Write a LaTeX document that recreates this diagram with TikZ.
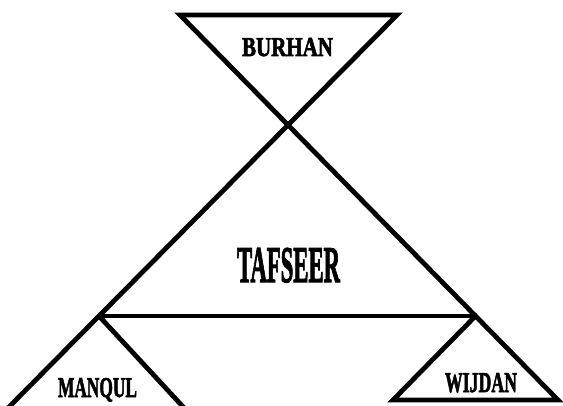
\documentclass[tikz,border=0pt]{standalone}
\usepackage{fontspec}
\setmainfont{Liberation Serif}
\newfontfamily\heavyfont{Liberation Serif}[BoldFeatures={FakeBold=2.5}]
\usepackage{graphicx}
\usetikzlibrary{calc,positioning}
% label squeezed to the width and cap height seen in the figure
\newcommand{\lbl}[3]{\resizebox{#1}{#2}{\heavyfont\bfseries #3}}

\begin{document}
\begin{tikzpicture}[x=0.75pt,y=-0.75pt,
    edge/.style={line width=3.6pt,black,line join=miter},
    word/.style={inner sep=0pt,anchor=base}]
  \useasboundingbox (0,0) rectangle (563,406);
  \clip (0,0) rectangle (563,406);
  % corners
  \coordinate (tl) at (180,15);
  \coordinate (tr) at (397,15);
  \coordinate (x)  at (288,125);
  \coordinate (ml) at (99,316);
  \coordinate (mr) at (475.5,316);
  \coordinate (ql) at (6,410);
  \coordinate (qr) at (186,410);
  \coordinate (wl) at (393,400);
  \coordinate (wr) at (558,400);
  % triangles
  \draw[edge] (tl) -- (tr) -- (x) -- cycle;
  \draw[edge] (ml) -- (x) -- (mr);
  \draw[edge,line cap=butt] (ml) -- (mr);
  \draw[edge] (ml) -- (qr) -- (ql) -- cycle;
  \draw[edge] (mr) -- (wl) -- (wr) -- cycle;
  % labels
  \node[word] (burhan)  at (287.5,56)  {\lbl{68.25pt}{13.5pt}{BURHAN}};
  \node[word] (tafseer) at (288.5,282) {\lbl{77.25pt}{25.5pt}{TAFSEER}};
  \node[word] (manqul)  at (97.5,397)  {\lbl{59.25pt}{14.25pt}{MANQUL}};
  \node[word] (wijdan)  at (481,392)   {\lbl{54pt}{14.25pt}{WIJDAN}};
\end{tikzpicture}
\end{document}
